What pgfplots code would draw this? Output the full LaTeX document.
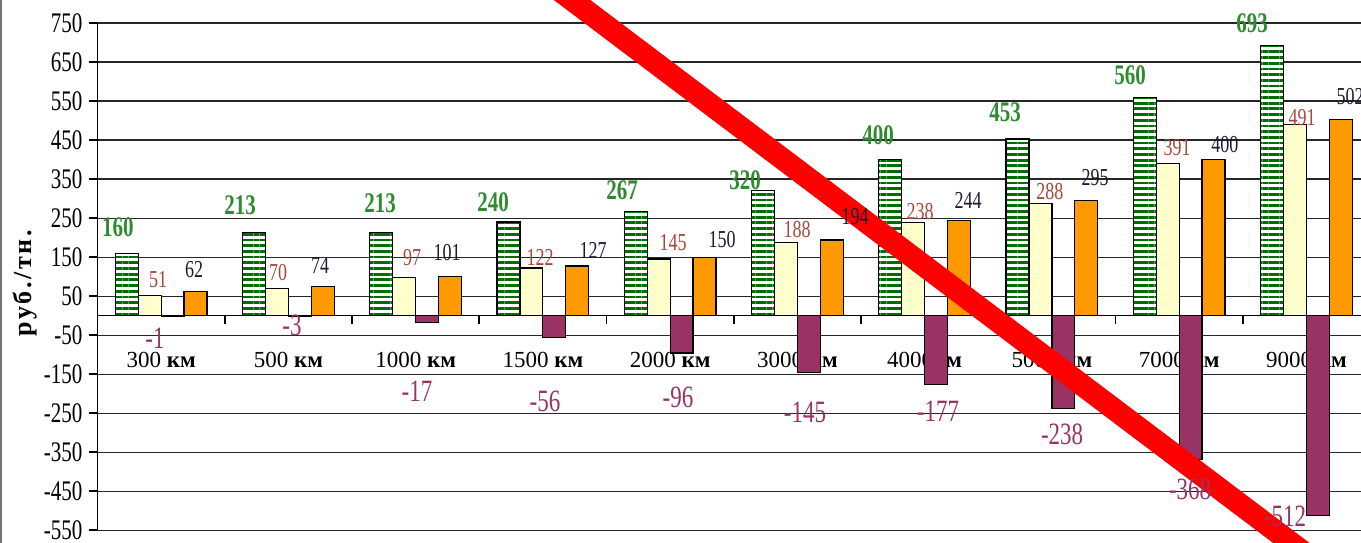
\documentclass[border=0pt]{standalone}
\usepackage{fontspec}
\setmainfont{Liberation Serif}
\usepackage{graphicx}
\usepackage{pgfplots}
\pgfplotsset{compat=1.18}
\usetikzlibrary{patterns.meta}
\definecolor{gbar}{HTML}{006E00}
\definecolor{glab}{HTML}{2E8B2E}
\definecolor{yelbar}{HTML}{FFFFCC}
\definecolor{pbar}{HTML}{993366}
\definecolor{obar}{HTML}{FF9900}
\definecolor{ylab}{HTML}{A5483A}
\definecolor{plab}{HTML}{993366}
\definecolor{olab}{HTML}{1A1A33}
\newcommand{\vs}[1]{\scalebox{1}[1.35]{#1}}
\begin{document}
\begin{tikzpicture}
\begin{axis}[
  x=63.625pt, y=0.195pt,
  xmin=-0.5, xmax=9.5, ymin=-550, ymax=750,
  axis x line=middle, axis y line=left,
  axis line style={-, black, line width=0.8pt},
  clip=false,
  xtick={0,...,9},
  xticklabels={300 \textbf{км},500 \textbf{км},1000 \textbf{км},1500 \textbf{км},2000 \textbf{км},3000 \textbf{км},4000\textbf{км},5000 \textbf{км},7000 \textbf{км},9000 \textbf{км}},
  xticklabel style={font=\fontsize{11.5}{13}\selectfont, anchor=center, yshift=-18pt},
  major x tick style={draw=none},
  minor xtick={0.5,1.5,...,8.5},
  minor tick length=4pt,
  major tick length=4pt,
  tick align=outside,
  tick style={black, line width=0.8pt},
  ytick={-550,-450,...,750},
  yticklabel={\vs{\pgfmathprintnumber[assume math mode=true]{\tick}}},
  yticklabel style={font=\fontsize{10.5}{12}\selectfont},
  ymajorgrids, grid style={black!85, line width=0.6pt},
  ylabel={\addfontfeature{LetterSpace=10}руб./тн.},
  ylabel style={font=\bfseries\fontsize{13}{15}\selectfont, at={(rel axis cs:-0.057,0.487)}, anchor=center},
]
% green striped
\addplot[ybar, bar width=0.18, bar shift=-0.27, draw=black, line width=0.6pt, fill=white,
  postaction={pattern={Lines[angle=0,distance=2.85pt,line width=1.4pt]}, pattern color=gbar}]
  coordinates {(0,160) (1,213) (2,213) (3,240) (4,267) (5,320) (6,400) (7,453) (8,560) (9,693)};
% light yellow
\addplot[ybar, bar width=0.18, bar shift=-0.09, draw=black, line width=0.6pt, fill=yelbar]
  coordinates {(0,51) (1,70) (2,97) (3,122) (4,145) (5,188) (6,238) (7,288) (8,391) (9,491)};
% purple
\addplot[ybar, bar width=0.18, bar shift=0.09, draw=black, line width=0.6pt, fill=pbar]
  coordinates {(0,-1) (1,-3) (2,-17) (3,-56) (4,-96) (5,-145) (6,-177) (7,-238) (8,-368) (9,-512)};
% orange
\addplot[ybar, bar width=0.18, bar shift=0.27, draw=black, line width=0.6pt, fill=obar]
  coordinates {(0,62) (1,74) (2,101) (3,127) (4,150) (5,194) (6,244) (7,295) (8,400) (9,502)};
% labels: green
\addplot[draw=none, point meta=explicit symbolic, nodes near coords={\vs{\pgfplotspointmeta}},
  every node near coord/.style={anchor=center, inner sep=0pt, text=glab, font=\bfseries\fontsize{10.5}{12}\selectfont}]
  coordinates {(-0.339,227.2)[160] (0.620,283.6)[213] (1.720,288.7)[213] (2.608,291.3)[240] (3.622,322.1)[267]
   (4.589,347.7)[320] (5.634,462.6)[400] (6.632,521.5)[453] (7.614,616.9)[560] (8.573,750.3)[693]};
% labels: yellow
\addplot[draw=none, point meta=explicit symbolic, nodes near coords={\vs{\pgfplotspointmeta}},
  every node near coord/.style={anchor=center, inner sep=0pt, text=ylab, font=\fontsize{9}{11}\selectfont}]
  coordinates {(-0.024,91.3)[51] (0.919,109.2)[70] (1.972,147.7)[97] (2.978,150.3)[122] (4.023,186.2)[145]
   (4.998,219.5)[188] (5.964,265.6)[238] (6.985,316.9)[288] (7.984,429.7)[391] (8.966,506.7)[491]};
% labels: purple
\addplot[draw=none, point meta=explicit symbolic, nodes near coords={\vs{\pgfplotspointmeta}},
  every node near coord/.style={anchor=center, inner sep=0pt, text=plab, font=\fontsize{11.5}{13}\selectfont}]
  coordinates {(-0.048,-57.4)[-1] (1.029,-24.1)[-3] (2.011,-194.9)[-17] (3.017,-220.5)[-56] (4.062,-210.3)[-96]
   (5.060,-248.7)[-145] (6.105,-246.2)[-177] (7.080,-305.1)[-238] (8.086,-446.2)[-368] (8.832,-515.4)[-512]};
% labels: orange
\addplot[draw=none, point meta=explicit symbolic, nodes near coords={\vs{\pgfplotspointmeta}},
  every node near coord/.style={anchor=center, inner sep=0pt, text=olab, font=\fontsize{9}{11}\selectfont}]
  coordinates {(0.260,116.9)[62] (1.249,129.7)[74] (2.247,160.5)[101] (3.394,168.2)[127] (4.408,193.8)[150]
   (5.453,252.8)[194] (6.341,296.4)[244] (7.339,352.8)[295] (8.360,437.4)[400] (9.343,560.5)[502]};
% frame line at the left edge and the red cross-out stroke
\draw[black!55, line width=1pt] (axis cs:-1.258,830) -- (axis cs:-1.258,-600);
\draw[red, line width=11pt] (axis cs:3.021,860.5) -- (axis cs:9.080,-631.8);
\coordinate (BL) at (axis cs:-1.2662,-580.5);
\coordinate (TR) at (axis cs:9.429,809.2);
\end{axis}
\pgfresetboundingbox
\useasboundingbox (BL) rectangle (TR);
\end{tikzpicture}
\end{document}
